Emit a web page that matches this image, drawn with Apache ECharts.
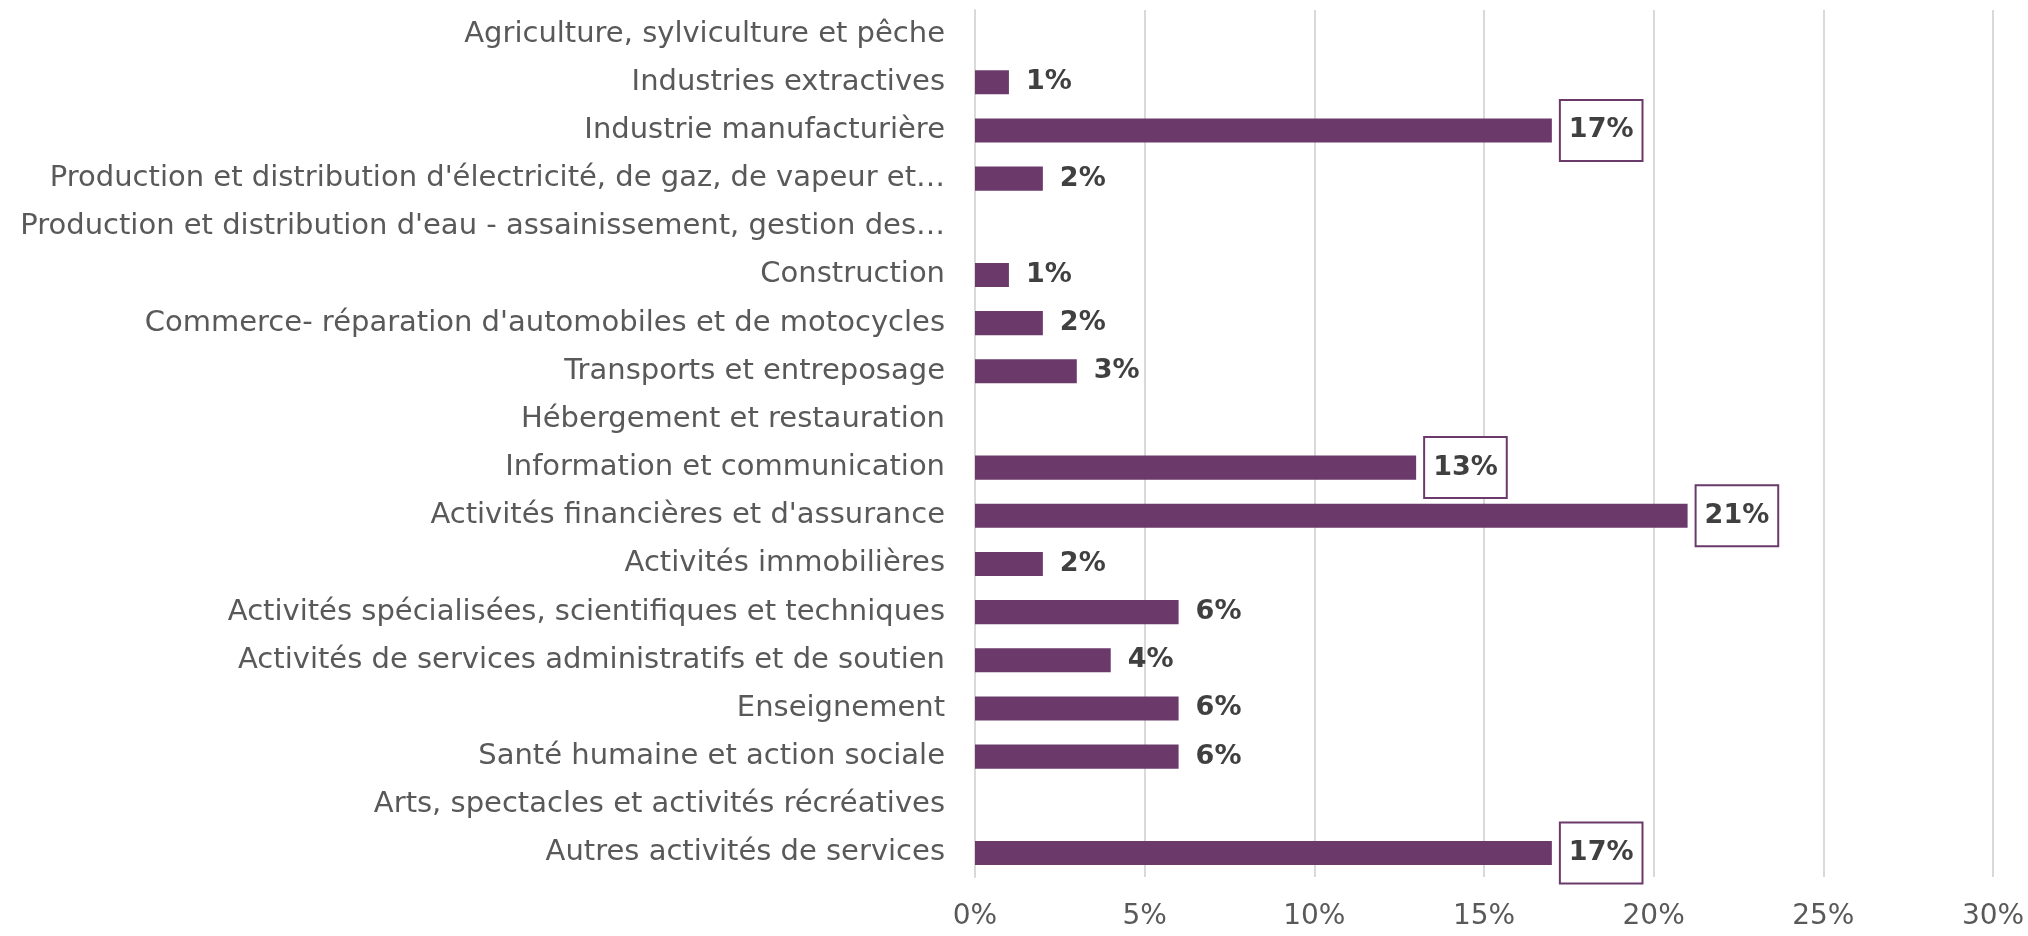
<!DOCTYPE html>
<html>
<head>
<meta charset="utf-8">
<script src="https://cdn.jsdelivr.net/npm/echarts@6/dist/echarts.min.js"></script>
<style>
  html, body { margin: 0; padding: 0; background: #fff; }
  #chart { width: 2028px; height: 936px; }
</style>
</head>
<body>
<div id="chart"></div>
<script>
// categories, top to bottom as in the picture
var categories = [
  'Agriculture, sylviculture et pêche',
  'Industries extractives',
  'Industrie manufacturière',
  "Production et distribution d'électricité, de gaz, de vapeur et…",
  "Production et distribution d'eau - assainissement, gestion des…",
  'Construction',
  "Commerce- réparation d'automobiles et de motocycles",
  'Transports et entreposage',
  'Hébergement et restauration',
  'Information et communication',
  "Activités financières et d'assurance",
  'Activités immobilières',
  'Activités spécialisées, scientifiques et techniques',
  'Activités de services administratifs et de soutien',
  'Enseignement',
  'Santé humaine et action sociale',
  'Arts, spectacles et activités récréatives',
  'Autres activités de services'
];
// share in percent (empty = no bar)
var values = [null, 1, 17, 2, null, 1, 2, 3, null, 13, 21, 2, 6, 4, 6, 6, null, 17];
// labels drawn inside a framed box
var boxed = [false, false, true, false, false, false, false, false, false, true, true, false, false, false, false, false, false, true];
var xTicks = [0, 5, 10, 15, 20, 25, 30];

var purple = '#6b3a6b';
var font = 'DejaVu Sans';

var chart = echarts.init(document.getElementById('chart'));

var seriesData = values.map(function (v, i) {
  var item = { value: v };
  if (boxed[i]) {
    item.label = {
      borderColor: purple,
      borderWidth: 2,
      backgroundColor: '#fff'
    };
  }
  return item;
});

chart.setOption({
  animation: false,
  grid: {
    left: 975,
    right: 35,
    top: 10,
    bottom: 59,
    containLabel: false
  },
  xAxis: {
    type: 'value',
    min: xTicks[0],
    max: xTicks[xTicks.length - 1],
    interval: 5,
    axisLine: { show: false },
    axisTick: { show: false },
    splitLine: { show: true, lineStyle: { color: '#d9d9d9', width: 2 } },
    axisLabel: {
      formatter: '{value}%',
      color: '#595959',
      fontFamily: font,
      fontSize: 28,
      margin: 26
    }
  },
  yAxis: {
    type: 'category',
    inverse: true,
    data: categories,
    axisLine: { show: true, lineStyle: { color: '#d9d9d9', width: 2 } },
    axisTick: { show: false },
    axisLabel: {
      color: '#595959',
      fontFamily: font,
      fontSize: 29,
      margin: 30
    }
  },
  series: [{
    type: 'bar',
    data: seriesData,
    barWidth: '50%',
    itemStyle: { color: purple },
    label: {
      show: true,
      position: 'right',
      distance: 9,
      padding: [16, 8, 16, 8],
      formatter: function (p) { return p.value == null ? '' : p.value + '%'; },
      color: '#404040',
      fontFamily: font,
      fontSize: 27,
      fontWeight: 'bold'
    }
  }]
});
</script>
</body>
</html>
